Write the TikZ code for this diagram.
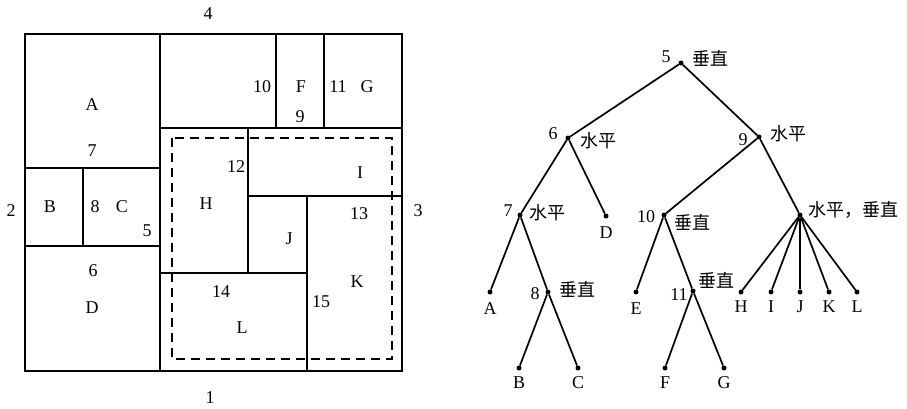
\documentclass[tikz,border=0pt]{standalone}
\usepackage{fontspec}
\setmainfont{Liberation Serif}
\newfontfamily\cjk{Noto Sans CJK SC}
\begin{document}
\begin{tikzpicture}[x=1pt,y=-1pt,
  lbl/.style={font=\fontsize{18}{18}\selectfont, inner sep=0pt},
  cj/.style={font=\cjk\fontsize{18}{18}\selectfont, inner sep=0pt},
  dot/.style={circle, fill, inner sep=0pt, minimum size=5pt},
  edge/.style={line width=1.7pt},
  wall/.style={line width=1.7pt},
  dash box/.style={line width=1.7pt, dash pattern=on 9pt off 6pt}]
\useasboundingbox (0,0) rectangle (907,408);
% ---------- floor plan ----------
\draw[wall] (25,34) rectangle (402,371);
\draw[wall] (160,34) -- (160,371);
\draw[wall] (25,168) -- (160,168);
\draw[wall] (25,246) -- (160,246);
\draw[wall] (83,168) -- (83,246);
\draw[wall] (160,128) -- (402,128);
\draw[wall] (276,34) -- (276,128);
\draw[wall] (324,34) -- (324,128);
\draw[wall] (248,128) -- (248,273);
\draw[wall] (248,196) -- (402,196);
\draw[wall] (307,196) -- (307,371);
\draw[wall] (160,273) -- (307,273);
\draw[dash box] (172,138) rectangle (392,359);
% plan labels
\node[lbl] (p4) at (208,14) {4};
\node[lbl] (p1) at (210,398) {1};
\node[lbl] (p2) at (11,211) {2};
\node[lbl] (p3) at (418,211) {3};
\node[lbl] (pA) at (92,105) {A};
\node[lbl] (p7) at (92,151) {7};
\node[lbl] (pB) at (50,207) {B};
\node[lbl] (p8) at (95,207) {8};
\node[lbl] (pC) at (122,207) {C};
\node[lbl] (p5) at (147,231) {5};
\node[lbl] (p6) at (93,271) {6};
\node[lbl] (pD) at (92,308) {D};
\node[lbl] (p10) at (262,87) {10};
\node[lbl] (pF) at (301,87) {F};
\node[lbl] (p9) at (300,117) {9};
\node[lbl] (p11) at (338,87) {11};
\node[lbl] (pG) at (367,87) {G};
\node[lbl] (p12) at (236,167) {12};
\node[lbl] (pI) at (360,173) {I};
\node[lbl] (pH) at (206,204) {H};
\node[lbl] (p13) at (359,214) {13};
\node[lbl] (pJ) at (289,239) {J};
\node[lbl] (pK) at (357,282) {K};
\node[lbl] (p14) at (221,292) {14};
\node[lbl] (p15) at (321,302) {15};
\node[lbl] (pL) at (242,328) {L};
% ---------- tree ----------
\node[dot] (n5) at (681,63) {};
\node[dot] (n6) at (568,138) {};
\node[dot] (n9) at (759,137) {};
\node[dot] (n7) at (520,215) {};
\node[dot] (nD) at (606,216) {};
\node[dot] (n10) at (664,215) {};
\node[dot] (nm) at (800,215) {};
\node[dot] (nA) at (490,292) {};
\node[dot] (n8) at (548,292) {};
\node[dot] (nB) at (519,368) {};
\node[dot] (nC) at (578,368) {};
\node[dot] (nE) at (636,292) {};
\node[dot] (n11) at (693,291) {};
\node[dot] (nF) at (665,368) {};
\node[dot] (nG) at (724,368) {};
\node[dot] (nH) at (741,292) {};
\node[dot] (nI) at (771,292) {};
\node[dot] (nJ) at (800,292) {};
\node[dot] (nK) at (829,292) {};
\node[dot] (nL) at (857,292) {};
\draw[edge] (n5) -- (n6);
\draw[edge] (n5) -- (n9);
\draw[edge] (n6) -- (n7);
\draw[edge] (n6) -- (nD);
\draw[edge] (n9) -- (n10);
\draw[edge] (n9) -- (nm);
\draw[edge] (n7) -- (nA);
\draw[edge] (n7) -- (n8);
\draw[edge] (n8) -- (nB);
\draw[edge] (n8) -- (nC);
\draw[edge] (n10) -- (nE);
\draw[edge] (n10) -- (n11);
\draw[edge] (n11) -- (nF);
\draw[edge] (n11) -- (nG);
\foreach \t in {H,I,J,K,L} \draw[edge] (nm) -- (n\t);
% tree labels
\node[lbl] (t5) at (666,57) {5};
\node[cj] (c5) at (710,58) {垂直};
\node[lbl] (t6) at (553,134) {6};
\node[cj] (c6) at (598,141) {水平};
\node[lbl] (t9) at (743,140) {9};
\node[cj] (c9) at (788,134) {水平};
\node[lbl] (t7) at (508,211) {7};
\node[cj] (c7) at (547,213) {水平};
\node[lbl] (tD) at (606,233) {D};
\node[lbl] (t10) at (646,217) {10};
\node[cj] (c10) at (692,222) {垂直};
\node[cj] (cm) at (853,210) {水平，垂直};
\node[lbl] (tA) at (490,309) {A};
\node[lbl] (t8) at (535,294) {8};
\node[cj] (c8) at (577,289) {垂直};
\node[lbl] (tB) at (519,383) {B};
\node[lbl] (tC) at (578,383) {C};
\node[lbl] (tE) at (636,309) {E};
\node[lbl] (t11) at (679,295) {11};
\node[cj] (c11) at (716,280) {垂直};
\node[lbl] (tF) at (665,383) {F};
\node[lbl] (tG) at (724,383) {G};
\node[lbl] (tH) at (741,307) {H};
\node[lbl] (tI) at (771,307) {I};
\node[lbl] (tJ) at (800,307) {J};
\node[lbl] (tK) at (829,307) {K};
\node[lbl] (tL) at (857,307) {L};
\end{tikzpicture}
\end{document}
